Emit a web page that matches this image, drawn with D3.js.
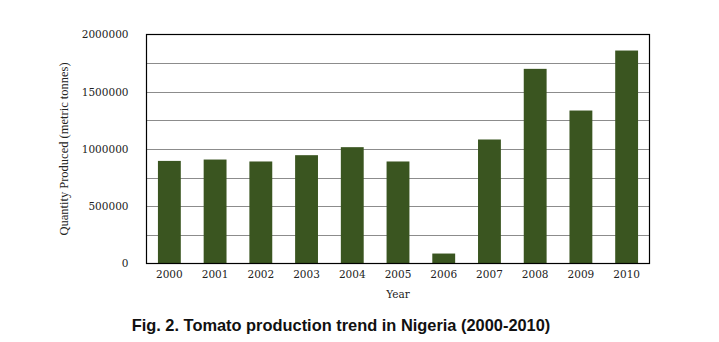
<!DOCTYPE html>
<html>
<head>
<meta charset="utf-8">
<script src="https://cdn.jsdelivr.net/npm/d3@7/dist/d3.min.js"></script>
<style>
  html, body { margin: 0; padding: 0; background: #fff; }
  svg { display: block; }
</style>
</head>
<body>
<svg id="chart" width="719" height="342"></svg>
<script>
// Tomato production in Nigeria, metric tonnes per year
const years = ["2000", "2001", "2002", "2003", "2004", "2005", "2006", "2007", "2008", "2009", "2010"];
const production = [896000, 908000, 891000, 946000, 1016000, 891000, 87000, 1083000, 1700000, 1336000, 1860000];
const yTicks = [0, 500000, 1000000, 1500000, 2000000];
const gridValues = [250000, 500000, 750000, 1000000, 1250000, 1500000, 1750000];

const svg = d3.select("#chart");
const plot = { left: 146.5, right: 649.5, top: 34.5, bottom: 263.5 };

const x = d3.scaleBand().domain(years).range([plot.left, plot.right]).paddingInner(0.5).paddingOuter(0.25);
const y = d3.scaleLinear().domain([0, 2000000]).range([plot.bottom, plot.top]);

// horizontal grid lines
svg.append("g")
  .selectAll("line")
  .data(gridValues)
  .join("line")
  .attr("x1", plot.left).attr("x2", plot.right)
  .attr("y1", d => Math.round(y(d)) + 0.5).attr("y2", d => Math.round(y(d)) + 0.5)
  .attr("stroke", "#8c8c8c").attr("stroke-width", 1);

// bars
svg.append("g")
  .selectAll("rect")
  .data(years.map((yr, i) => ({ yr, v: production[i] })))
  .join("rect")
  .attr("x", d => x(d.yr))
  .attr("width", x.bandwidth())
  .attr("y", d => y(d.v))
  .attr("height", d => y(0) - y(d.v))
  .attr("fill", "#3a5520");

// plot frame
svg.append("rect")
  .attr("x", plot.left).attr("y", plot.top)
  .attr("width", plot.right - plot.left).attr("height", plot.bottom - plot.top)
  .attr("fill", "none").attr("stroke", "#000").attr("stroke-width", 1.2);

// y axis labels
const yAxis = d3.axisLeft(y).tickValues(yTicks).tickSize(0).tickPadding(18).tickFormat(d3.format("d"));
svg.append("g")
  .attr("transform", `translate(${plot.left},0)`)
  .call(yAxis)
  .call(g => g.select(".domain").remove())
  .selectAll("text")
  .attr("font-family", "DejaVu Serif")
  .attr("font-size", 10.5)
  .attr("fill", "#222");

// x axis labels
const xAxis = d3.axisBottom(x).tickSize(0).tickPadding(7);
svg.append("g")
  .attr("transform", `translate(0,${plot.bottom})`)
  .call(xAxis)
  .call(g => g.select(".domain").remove())
  .selectAll("text")
  .attr("font-family", "DejaVu Serif")
  .attr("font-size", 10.5)
  .attr("fill", "#222");

// axis titles
svg.append("text")
  .attr("x", (plot.left + plot.right) / 2).attr("y", 298)
  .attr("text-anchor", "middle")
  .attr("font-family", "DejaVu Serif").attr("font-size", 10.5).attr("fill", "#222")
  .text("Year");

svg.append("text")
  .attr("transform", `translate(68,${(plot.top + plot.bottom) / 2}) rotate(-90)`)
  .attr("text-anchor", "middle")
  .attr("font-family", "Liberation Serif").attr("font-size", 12.5).attr("fill", "#222")
  .text("Quantity Produced (metric tonnes)");

// figure caption
svg.append("text")
  .attr("x", 341).attr("y", 331)
  .attr("text-anchor", "middle")
  .attr("font-family", "Liberation Sans, Arial").attr("font-weight", "bold").attr("font-size", 16.4).attr("fill", "#111")
  .text("Fig. 2. Tomato production trend in Nigeria (2000-2010)");
</script>
</body>
</html>
